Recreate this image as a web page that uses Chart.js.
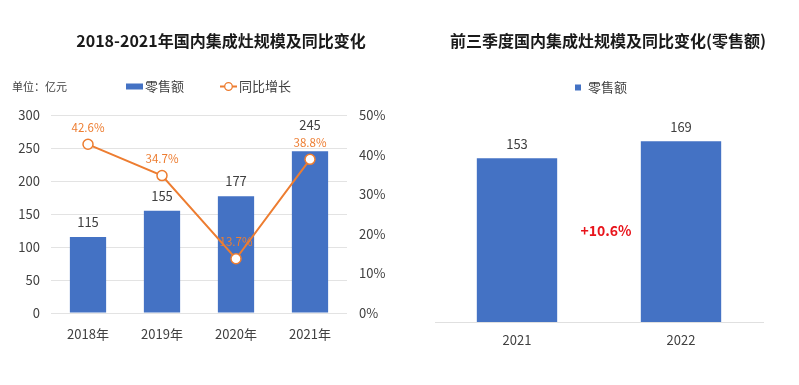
<!DOCTYPE html>
<html>
<head>
<meta charset="utf-8">
<script src="https://cdn.jsdelivr.net/npm/chart.js@4"></script>
<style>
  body { margin: 0; background: #fff; font-family: "Noto Sans CJK SC", "Noto Sans", sans-serif; }
  #wrap { position: relative; width: 799px; height: 385px; overflow: hidden; }
  canvas { position: absolute; top: 0; }
  .t { position: absolute; white-space: nowrap; transform: translate(-50%, -50%); font-weight: bold; font-size: 16px; color: #1a1a1a; }
  .lab { position: absolute; white-space: nowrap; transform: translateY(-50%); font-size: 13px; color: #404040; }
  .sw { display: inline-block; vertical-align: middle; }
</style>
</head>
<body>
<div id="wrap">
  <canvas id="left" width="400" height="385" style="left:0"></canvas>
  <canvas id="right" width="389" height="385" style="left:410px"></canvas>

  <div class="t" style="left:221px; top:40px">2018-2021年国内集成灶规模及同比变化</div>
  <div class="t" style="left:608px; top:40px">前三季度国内集成灶规模及同比变化(零售额)</div>

  <div class="lab" style="left:12px; top:86px; font-size:11px">单位：亿元</div>
  <div class="lab" style="left:126px; top:85px"><span class="sw" style="width:17px;height:6px;background:#4472C4;margin-right:2px"></span>零售额</div>
  <div class="lab" style="left:220px; top:85px"><svg class="sw" width="17" height="10" style="margin-right:2px"><line x1="0" y1="5" x2="17" y2="5" stroke="#ED7D31" stroke-width="2"/><circle cx="8.5" cy="5" r="3.8" fill="#fff" stroke="#ED7D31" stroke-width="1.3"/></svg>同比增长</div>
  <div class="lab" style="left:575px; top:86px"><span class="sw" style="width:6px;height:6px;background:#4472C4;margin-right:7px"></span>零售额</div>
</div>
<script>
// left chart
const years = ['2018年', '2019年', '2020年', '2021年'];
const retail = [115, 155, 177, 245];
const growth = [42.6, 34.7, 13.7, 38.8];

// right chart
const quarterYears = ['2021', '2022'];
const quarterRetail = [153, 169];
const quarterChange = '+10.6%';

const BLUE = '#4472C4', ORANGE = '#ED7D31', FONT = '"Noto Sans CJK SC", "Noto Sans", sans-serif';
Chart.defaults.font.family = FONT;
Chart.defaults.color = '#595959';

const leftLabels = {
  id: 'leftLabels',
  afterDatasetsDraw(chart) {
    const c = chart.ctx;
    const bars = chart.getDatasetMeta(0).data, pts = chart.getDatasetMeta(1).data;
    c.save();
    c.textAlign = 'center'; c.textBaseline = 'middle';
    bars.forEach((b, i) => {
      const lineY = pts[i].y - 17;
      let y = b.y - 15;
      if (Math.abs(lineY - y) < 14) y = lineY - 17;
      c.font = '13px ' + FONT; c.fillStyle = '#404040';
      c.fillText(retail[i], b.x, y);
      c.font = '11.5px ' + FONT; c.fillStyle = ORANGE;
      c.fillText(growth[i].toFixed(1) + '%', pts[i].x, lineY);
    });
    c.restore();
  }
};

new Chart(document.getElementById('left'), {
  data: {
    labels: years,
    datasets: [
      { type: 'bar', label: '零售额', data: retail, backgroundColor: BLUE, yAxisID: 'y', order: 1,
        categoryPercentage: 1, barPercentage: 0.49 },
      { type: 'line', label: '同比增长', data: growth, yAxisID: 'y1', order: 0, borderColor: ORANGE, borderWidth: 2,
        pointRadius: 5, pointBackgroundColor: '#fff', pointBorderColor: ORANGE, pointBorderWidth: 1.5, tension: 0 }
    ]
  },
  options: {
    responsive: false, animation: false,
    layout: { padding: { top: 115 } },
    plugins: { legend: { display: false }, tooltip: { enabled: false } },
    scales: {
      x: { grid: { display: false }, border: { display: false },
           ticks: { padding: 5, font: { size: 13 }, color: '#404040' },
           afterFit: s => { s.height = 72; } },
      y: { min: 0, max: 300, ticks: { stepSize: 50, padding: 11, font: { size: 13 }, color: '#404040' },
           grid: { color: '#e3e3e3', drawTicks: false }, border: { display: false },
           afterFit: s => { s.width = 51; } },
      y1: { position: 'right', min: 0, max: 50, ticks: { stepSize: 10, padding: 12, font: { size: 13 }, color: '#404040',
            callback: v => v + '%' },
            grid: { display: false, drawTicks: false }, border: { display: false },
            afterFit: s => { s.width = 53; } }
    }
  },
  plugins: [leftLabels]
});

const rightLabels = {
  id: 'rightLabels',
  afterDatasetsDraw(chart) {
    const c = chart.ctx;
    const bars = chart.getDatasetMeta(0).data;
    c.save();
    c.textAlign = 'center'; c.textBaseline = 'middle';
    c.font = '13px ' + FONT; c.fillStyle = '#404040';
    bars.forEach((b, i) => c.fillText(quarterRetail[i], b.x, b.y - 14));
    c.font = 'bold 14px ' + FONT; c.fillStyle = '#E8141B';
    const x = (bars[0].x + bars[1].x) / 2 + 7;
    c.fillText(quarterChange, x, chart.scales.y.getPixelForValue(85));
    c.restore();
  }
};

new Chart(document.getElementById('right'), {
  type: 'bar',
  data: {
    labels: quarterYears,
    datasets: [{ label: '零售额', data: quarterRetail, backgroundColor: BLUE, categoryPercentage: 1, barPercentage: 0.49 }]
  },
  options: {
    responsive: false, animation: false,
    layout: { padding: { top: 108, left: 25, right: 36 } },
    plugins: { legend: { display: false }, tooltip: { enabled: false } },
    scales: {
      x: { grid: { display: false }, border: { display: true, color: '#e0e0e0' },
           ticks: { padding: 2, font: { size: 13 }, color: '#404040' },
           afterFit: s => { s.height = 63; } },
      y: { display: false, min: 0, max: 200 }
    }
  },
  plugins: [rightLabels]
});
</script>
</body>
</html>
